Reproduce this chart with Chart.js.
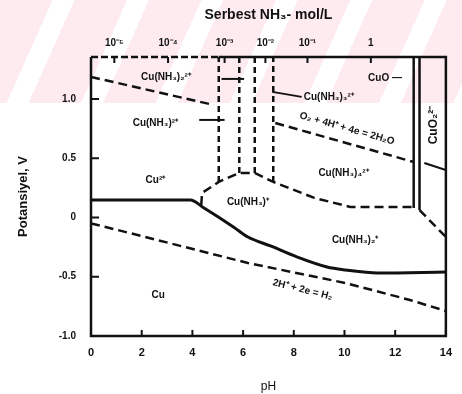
<!DOCTYPE html>
<html><head><meta charset="utf-8">
<script src="https://cdn.jsdelivr.net/npm/chart.js@4"></script>
<style>
html,body{margin:0;padding:0;background:#fff;}
#wrap{position:relative;width:462px;height:394px;
 background:
  linear-gradient(to bottom, rgba(255,255,255,0) 0px, rgba(255,255,255,0) 103px, #fff 103px),
  repeating-linear-gradient(114deg, #fdebef 0px, #fdebef 48px, #ffffff 48px, #ffffff 68px);}
canvas{display:block;}
</style></head>
<body><div id="wrap"><canvas id="c" width="462" height="394"></canvas></div>
<script>
// ---- axis ticks ----
const pHTicks = [0, 2, 4, 6, 8, 10, 12, 14];
const yTickValues = [1.0, 0.5, 0, -0.5, -1.0];
const yTickLabels = ['1.0', '0.5', '0', '-0.5', '-1.0'];
const nh3TickPH = [0.92, 3.04, 5.27, 6.88, 8.54, 11.04];
const nh3TickLabels = ['10⁻⁵', '10⁻⁴', '10⁻³', '10⁻²', '10⁻¹', '1'];

// ---- O2 / H2O line (dashed) ----
const o2PH1 = [0, 4.85];        const o2E1 = [1.186, 0.949];
const o2PH2 = [7.27, 12.7];     const o2E2 = [0.797, 0.47];
const o2PH3 = [13.15, 14];      const o2E3 = [0.46, 0.40];

// ---- H+/H2 line (dashed) ----
const h2PH = [0, 1.04, 6.19, 10.04, 12.58, 14];
const h2E  = [-0.05, -0.105, -0.384, -0.553, -0.696, -0.789];

// ---- Cu(II) ammine boundaries (vertical dashed) ----
const ammPH = [5.04, 5.85, 6.46, 7.19];
const ammBottomE = [0.30, 0.376, 0.376, 0.30];
const topE = 1.354;

// ---- Cu(II)/Cu(I) boundary (dashed dome) ----
const domePH = [4.35, 4.38, 5.04, 5.85, 6.46, 7.19, 8.81, 10.23, 12.73];
const domeE  = [0.105, 0.207, 0.30, 0.376, 0.376, 0.30, 0.165, 0.089, 0.089];

// ---- Cu / Cu(II),Cu(I) boundary (solid) ----
const curvePH = [0, 3.92, 4.46, 5.62, 6.19, 7.08, 8.12, 9.31, 10.04, 11.31, 14];
const curveE  = [0.148, 0.148, 0.080, -0.080, -0.165, -0.24, -0.333, -0.418, -0.443, -0.468, -0.460];

// ---- CuO field (solid verticals) and right dashed ----
const cuoPH = [12.73, 12.96];
const cuoBottomE = [0.08, 0.063];
const rightDashPH = [12.96, 14];
const rightDashE = [0.063, -0.165];

// ---- label pointers ----
const ptrA_PH = [5.15, 6.04]; const ptrA_E = [1.169, 1.169];
const ptrB_PH = [4.27, 5.27]; const ptrB_E = [0.823, 0.823];
const ptrD_PH = [7.15, 8.31]; const ptrD_E = [1.059, 1.017];

// ---- region labels ----
const labelTexts = ['Cu(NH₃)₂²⁺', 'Cu(NH₃)²⁺', 'Cu²⁺', 'Cu(NH₃)₃²⁺', 'CuO —', 'Cu(NH₃)₄²⁺', 'Cu(NH₃)⁺', 'Cu(NH₃)₂⁺', 'Cu'];
const labelPH    = [2.96, 2.54, 2.54, 9.38, 11.6, 9.96, 6.19, 10.42, 2.65];
const labelE     = [1.186, 0.797, 0.316, 1.017, 1.177, 0.376, 0.131, -0.19, -0.654];
const eqO2Text = 'O₂ + 4H⁺ + 4e = 2H₂O'; const eqO2At = [10.1, 0.75];
const eqH2Text = '2H⁺ + 2e = H₂';        const eqH2At = [8.35, -0.61];
const cuo2Text = 'CuO₂²⁻';               const cuo2At = [13.5, 0.78];

const F = "'Liberation Sans', Arial, sans-serif";
const INK = '#111';

function pts(px, ey) { return px.map((v, i) => ({x: v, y: ey[i]})); }
function ds(px, ey, dash, w, extra) {
  return Object.assign({type: 'line', data: pts(px, ey), borderColor: INK, backgroundColor: INK,
    borderWidth: w, borderDash: dash, pointRadius: 0, fill: false, tension: 0}, extra || {});
}
const DASH = [9, 5], VDASH = [6, 4];
const datasets = [
  ds(o2PH1, o2E1, DASH, 2.5), ds(o2PH2, o2E2, DASH, 2.5), ds(o2PH3, o2E3, [], 2.2),
  ds(h2PH, h2E, DASH, 2.5),
  ds(domePH, domeE, DASH, 2.5),
  ds(curvePH, curveE, [], 3, {cubicInterpolationMode: 'monotone'}),
  ds(rightDashPH, rightDashE, DASH, 2.5),
  ds(ptrA_PH, ptrA_E, [], 2), ds(ptrB_PH, ptrB_E, [], 2), ds(ptrD_PH, ptrD_E, [], 1.8)
];
ammPH.forEach((p, i) => datasets.push(ds([p, p], [ammBottomE[i], topE], VDASH, 2.5)));
cuoPH.forEach((p, i) => datasets.push(ds([p, p], [cuoBottomE[i], topE], [], 2.5)));

const decor = {
  id: 'decor',
  afterDatasetsDraw(chart) {
    const {ctx, chartArea: ca, scales} = chart;
    const x = scales.x, y = scales.y, x2 = scales.x2;
    ctx.save();
    ctx.strokeStyle = INK; ctx.fillStyle = INK;
    // frame (top edge dashed over the Cu2+ field, as in the scan)
    ctx.lineWidth = 2.5;
    const split = x2.getPixelForValue(ammPH[0]);
    ctx.beginPath();
    ctx.moveTo(split, ca.top); ctx.lineTo(ca.right, ca.top); ctx.lineTo(ca.right, ca.bottom);
    ctx.lineTo(ca.left, ca.bottom); ctx.lineTo(ca.left, ca.top);
    ctx.stroke();
    ctx.setLineDash([7, 3]);
    ctx.beginPath(); ctx.moveTo(ca.left, ca.top); ctx.lineTo(split, ca.top); ctx.stroke();
    ctx.setLineDash([]);
    // inner ticks
    ctx.lineWidth = 2;
    ctx.beginPath();
    pHTicks.forEach(v => { const p = x.getPixelForValue(v); ctx.moveTo(p, ca.bottom); ctx.lineTo(p, ca.bottom - 6); });
    nh3TickPH.forEach(v => { const p = x2.getPixelForValue(v); ctx.moveTo(p, ca.top); ctx.lineTo(p, ca.top + 6); });
    yTickValues.forEach(v => { const p = y.getPixelForValue(v); ctx.moveTo(ca.left, p); ctx.lineTo(ca.left + 8, p); });
    ctx.stroke();
    // region labels
    ctx.font = 'bold 10px ' + F;
    ctx.textAlign = 'center'; ctx.textBaseline = 'middle';
    labelTexts.forEach((t, i) => ctx.fillText(t, x.getPixelForValue(labelPH[i]), y.getPixelForValue(labelE[i])));
    // rotated equation labels, angle taken from their lines
    const rot = (t, at, px, ey) => {
      const ax = x.getPixelForValue(px[0]), ay = y.getPixelForValue(ey[0]);
      const bx = x.getPixelForValue(px[px.length - 1]), by = y.getPixelForValue(ey[ey.length - 1]);
      ctx.save();
      ctx.translate(x.getPixelForValue(at[0]), y.getPixelForValue(at[1]));
      ctx.rotate(Math.atan2(by - ay, bx - ax));
      ctx.fillText(t, 0, 0);
      ctx.restore();
    };
    rot(eqO2Text, eqO2At, o2PH2, o2E2);
    rot(eqH2Text, eqH2At, h2PH, h2E);
    ctx.save();
    ctx.font = 'bold 12px ' + F;
    ctx.translate(x.getPixelForValue(cuo2At[0]), y.getPixelForValue(cuo2At[1]));
    ctx.rotate(-Math.PI / 2);
    ctx.fillText(cuo2Text, 0, 0);
    ctx.restore();
    ctx.restore();
  }
};

new Chart(document.getElementById('c'), {
  type: 'line',
  data: {datasets},
  options: {
    responsive: false, animation: false, parsing: true,
    layout: {padding: {left: 0, right: 7, top: 0, bottom: 0}},
    plugins: {legend: {display: false}, tooltip: {enabled: false}, title: {display: false}},
    scales: {
      x: {type: 'linear', position: 'bottom', min: 0, max: 14,
        afterBuildTicks: s => { s.ticks = pHTicks.map(v => ({value: v})); },
        ticks: {callback: v => String(v), font: {weight: 'bold', size: 11, family: F}, color: INK, padding: 10, maxRotation: 0, autoSkip: false},
        grid: {display: false, drawTicks: false}, border: {display: false},
        title: {display: true, text: 'pH', font: {size: 12, family: F}, color: INK, padding: {top: 4, bottom: 0}},
        afterFit: s => { s.height = 58; }
      },
      x2: {type: 'linear', position: 'top', min: 0, max: 14,
        afterBuildTicks: s => { s.ticks = nh3TickPH.map(v => ({value: v})); },
        ticks: {callback: (v, i) => nh3TickLabels[i], font: {weight: 'bold', size: 10, family: F}, color: INK, padding: 8, maxRotation: 0, autoSkip: false},
        grid: {display: false, drawTicks: false}, border: {display: false},
        title: {display: true, text: 'Serbest NH₃- mol/L', font: {weight: 'bold', size: 14, family: F}, color: INK, padding: {top: 7, bottom: 0}},
        afterFit: s => { s.height = 57; }
      },
      y: {type: 'linear', position: 'left', min: -1, max: topE,
        afterBuildTicks: s => { s.ticks = yTickValues.map(v => ({value: v})); },
        ticks: {callback: (v, i) => yTickLabels[i], font: {weight: 'bold', size: 10, family: F}, color: INK, padding: 15, autoSkip: false},
        grid: {display: false, drawTicks: false}, border: {display: false},
        title: {display: true, text: 'Potansiyel, V', font: {weight: 'bold', size: 13, family: F}, color: INK, padding: {top: 16, bottom: 0}},
        afterFit: s => { s.width = 91; }
      }
    }
  },
  plugins: [decor]
});
</script></body></html>
